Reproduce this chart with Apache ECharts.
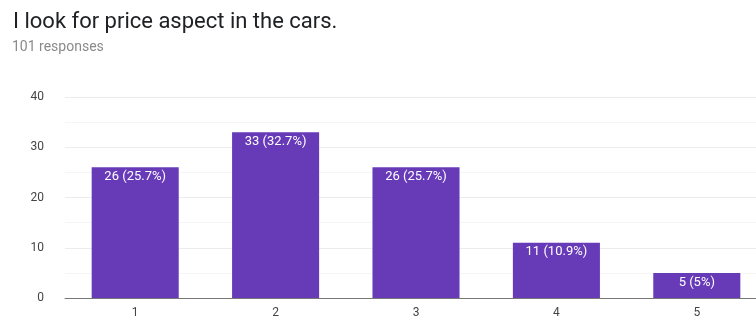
<!DOCTYPE html>
<html>
<head>
<meta charset="utf-8">
<script src="https://cdn.jsdelivr.net/npm/echarts@6/dist/echarts.min.js"></script>
<style>
  html, body { margin: 0; padding: 0; background: #fff; overflow: hidden; }
  /* the plot runs a little past the right edge of the window */
  #chart { width: 767px; height: 324px; }
</style>
</head>
<body>
<div id="chart"></div>
<script>
// Answer scale and response counts
const categories = ['1', '2', '3', '4', '5'];
const counts = [26, 33, 26, 11, 5];
const percents = ['25.7%', '32.7%', '25.7%', '10.9%', '5%'];
const yTicks = [0, 10, 20, 30, 40];

const chart = echarts.init(document.getElementById('chart'), null, { renderer: 'canvas' });

chart.setOption({
  animation: false,
  backgroundColor: '#ffffff',
  title: [
    {
      text: 'I look for price aspect in the cars.',
      left: 8,
      top: 6,
      textStyle: { fontFamily: 'Roboto', fontSize: 22, fontWeight: 'normal', color: '#202124' }
    },
    {
      text: '101 responses',
      left: 7,
      top: 35,
      textStyle: { fontFamily: 'Roboto', fontSize: 14, fontWeight: 'normal', color: '#8a8a8a' }
    }
  ],
  grid: { left: 65, top: 97, height: 201, right: 0 },
  xAxis: {
    type: 'category',
    data: categories,
    axisLine: { lineStyle: { color: '#777', width: 1 } },
    axisTick: { show: false },
    axisLabel: { color: '#444', fontFamily: 'Roboto', fontSize: 12, margin: 9 }
  },
  yAxis: {
    type: 'value',
    min: yTicks[0],
    max: yTicks[yTicks.length - 1],
    interval: 10,
    axisLine: { show: false },
    axisTick: { show: false },
    axisLabel: { color: '#444', fontFamily: 'Roboto', fontSize: 12, margin: 21 },
    splitLine: { lineStyle: { color: '#ececec', width: 1 } },
    minorTick: { show: false, splitNumber: 2 },
    minorSplitLine: { show: true, lineStyle: { color: '#f5f5f5', width: 1 } }
  },
  series: [{
    type: 'bar',
    data: counts,
    barCategoryGap: '38%',
    itemStyle: { color: '#673ab7' },
    label: {
      show: true,
      position: 'insideTop',
      distance: 3,
      color: '#ffffff',
      fontFamily: 'Roboto',
      fontSize: 13,
      formatter: p => p.value + ' (' + percents[p.dataIndex] + ')'
    }
  }]
});
</script>
</body>
</html>
